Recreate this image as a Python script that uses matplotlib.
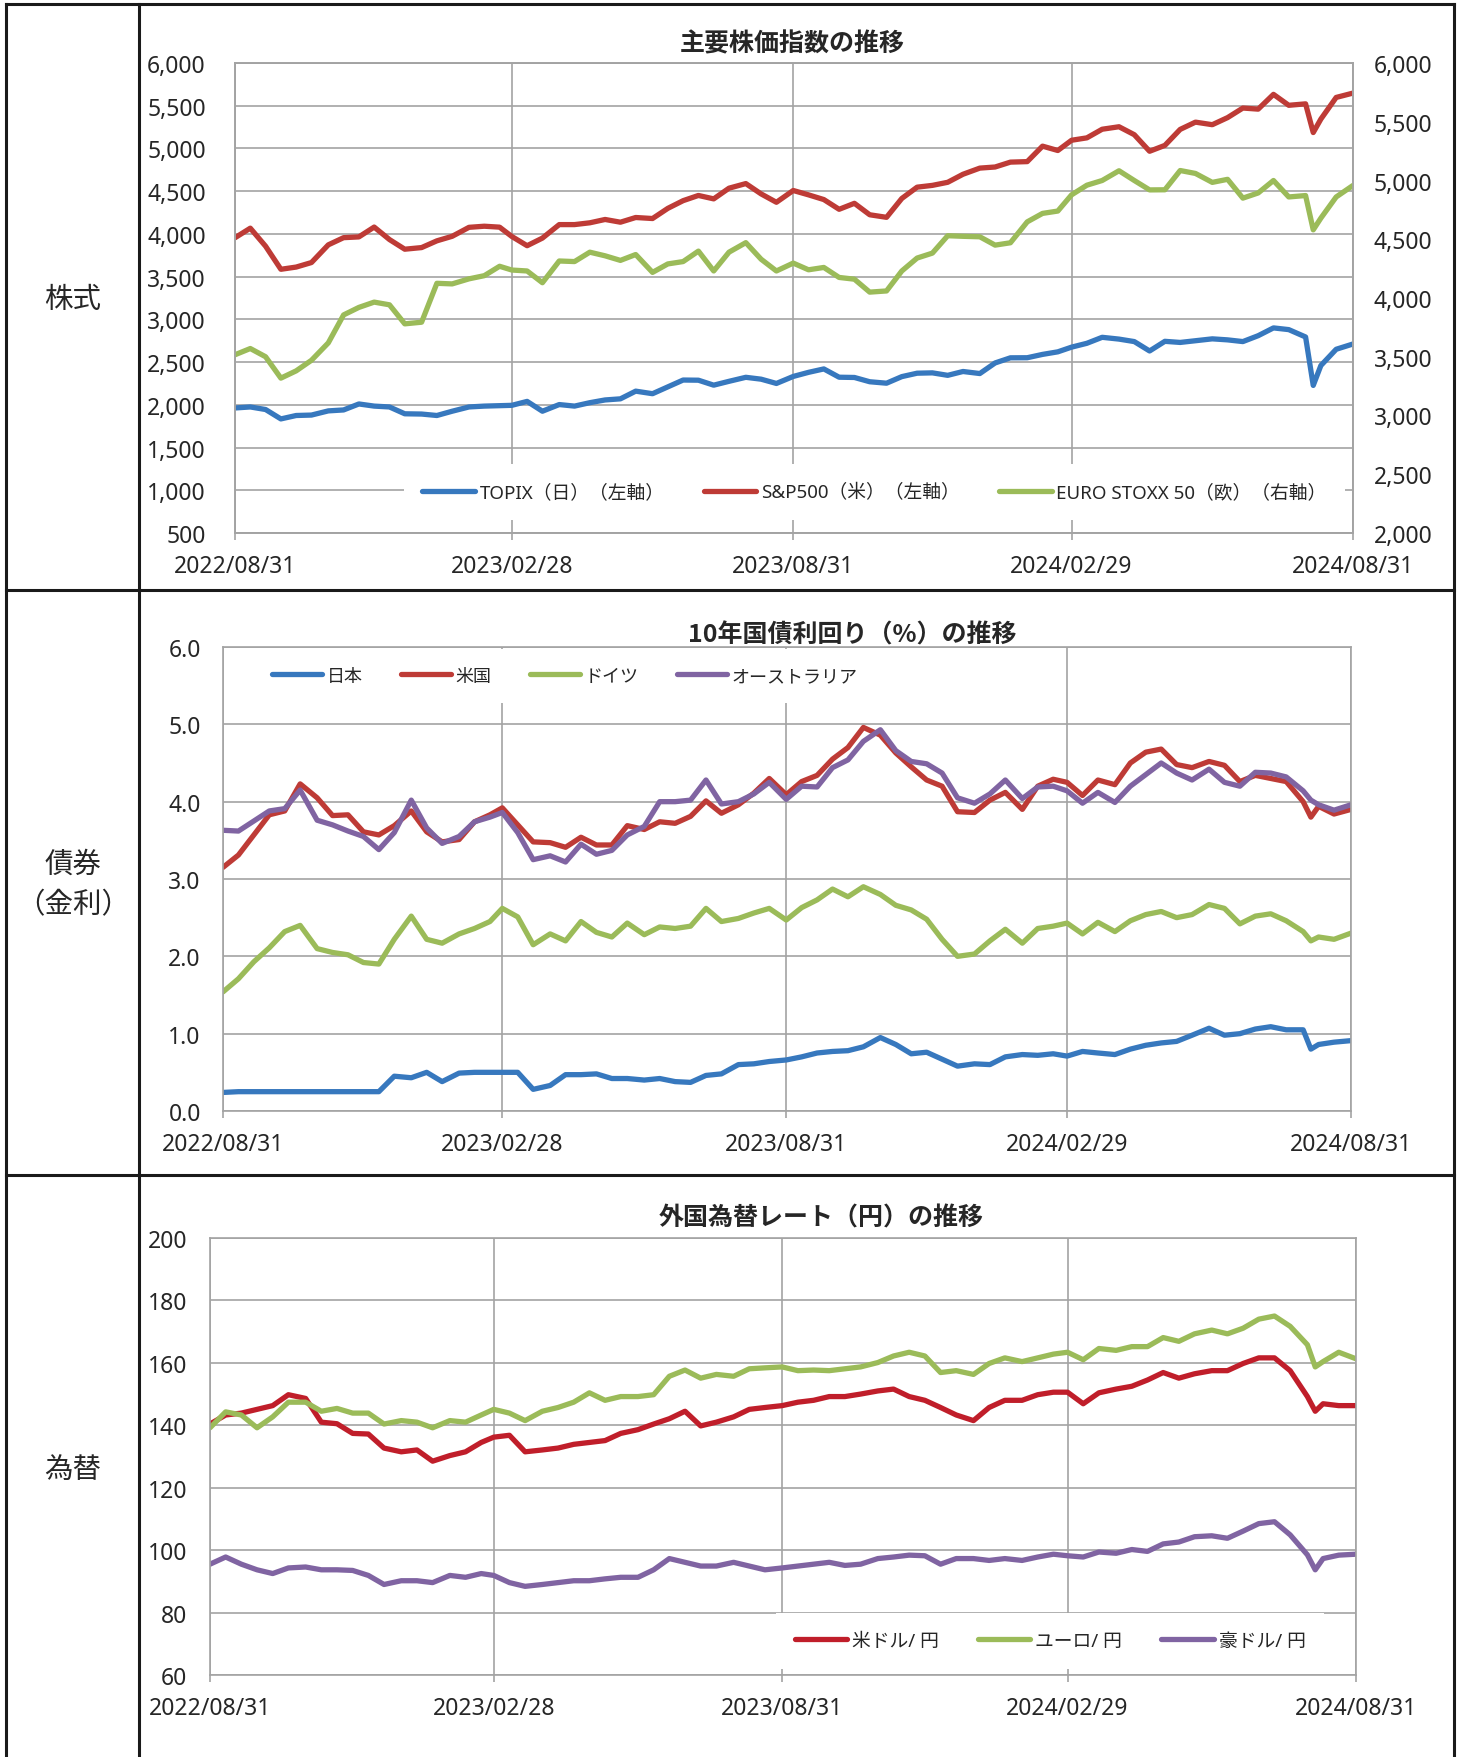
import matplotlib
matplotlib.use("Agg")
import matplotlib.pyplot as plt
import matplotlib.dates as mdates
from matplotlib.lines import Line2D
from matplotlib.ticker import FuncFormatter
import pandas as pd

plt.rcParams['font.family'] = ['Noto Sans', 'Noto Sans CJK JP']

# ---- data (~every 10 days) ----
dates = [
    "2022-08-31", "2022-09-10", "2022-09-20", "2022-09-30", "2022-10-10", "2022-10-20", "2022-10-31",
    "2022-11-10", "2022-11-20", "2022-11-30", "2022-12-10", "2022-12-20", "2022-12-31",
    "2023-01-10", "2023-01-20", "2023-01-31", "2023-02-10", "2023-02-20", "2023-02-28",
    "2023-03-10", "2023-03-20", "2023-03-31", "2023-04-10", "2023-04-20", "2023-04-30",
    "2023-05-10", "2023-05-20", "2023-05-31", "2023-06-10", "2023-06-20", "2023-06-30",
    "2023-07-10", "2023-07-20", "2023-07-31", "2023-08-10", "2023-08-20", "2023-08-31",
    "2023-09-10", "2023-09-20", "2023-09-30", "2023-10-10", "2023-10-20", "2023-10-31",
    "2023-11-10", "2023-11-20", "2023-11-30", "2023-12-10", "2023-12-20", "2023-12-31",
    "2024-01-10", "2024-01-20", "2024-01-31", "2024-02-10", "2024-02-20", "2024-02-29",
    "2024-03-10", "2024-03-20", "2024-03-31", "2024-04-10", "2024-04-20", "2024-04-30",
    "2024-05-10", "2024-05-20", "2024-05-31", "2024-06-10", "2024-06-20", "2024-06-30",
    "2024-07-10", "2024-07-20", "2024-07-31", "2024-08-05", "2024-08-10", "2024-08-20", "2024-08-31",
]

topix = [1963, 1975, 1945, 1835, 1875, 1880, 1929,
         1940, 2010, 1985, 1975, 1895, 1892,
         1875, 1925, 1975, 1985, 1990, 1994,
         2040, 1925, 2003, 1985, 2025, 2057,
         2070, 2160, 2130, 2210, 2290, 2288,
         2230, 2275, 2322, 2300, 2250, 2332,
         2380, 2420, 2323, 2320, 2270, 2253,
         2330, 2370, 2374, 2345, 2390, 2366,
         2490, 2550, 2551, 2590, 2620, 2675,
         2720, 2790, 2769, 2740, 2630, 2743,
         2730, 2750, 2772, 2760, 2740, 2809,
         2900, 2880, 2794, 2227, 2460, 2650, 2712]
sp500 = [3955, 4067, 3856, 3586, 3612, 3665, 3872,
         3956, 3965, 4080, 3934, 3821, 3840,
         3919, 3972, 4077, 4090, 4079, 3970,
         3862, 3951, 4109, 4109, 4130, 4169,
         4137, 4192, 4180, 4299, 4389, 4450,
         4410, 4535, 4589, 4468, 4370, 4508,
         4457, 4402, 4288, 4358, 4224, 4194,
         4415, 4547, 4568, 4604, 4698, 4770,
         4783, 4840, 4846, 5027, 4976, 5096,
         5124, 5225, 5254, 5161, 4967, 5036,
         5223, 5308, 5278, 5361, 5473, 5460,
         5633, 5505, 5522, 5186, 5344, 5597, 5648]
stoxx50 = [3517, 3570, 3500, 3318, 3380, 3470, 3618,
           3856, 3920, 3965, 3942, 3780, 3794,
           4125, 4120, 4163, 4190, 4270, 4238,
           4230, 4130, 4315, 4310, 4390, 4359,
           4320, 4370, 4218, 4290, 4310, 4399,
           4230, 4390, 4471, 4330, 4230, 4297,
           4240, 4260, 4175, 4160, 4050, 4060,
           4230, 4340, 4382, 4530, 4525, 4521,
           4450, 4470, 4648, 4720, 4740, 4878,
           4960, 5000, 5083, 5000, 4920, 4921,
           5085, 5060, 4984, 5010, 4850, 4894,
           5000, 4860, 4872, 4580, 4680, 4860, 4958]

jp10 = [0.24, 0.25, 0.25, 0.25, 0.25, 0.25, 0.25,
        0.25, 0.25, 0.25, 0.25, 0.45, 0.43,
        0.50, 0.38, 0.49, 0.50, 0.50, 0.50,
        0.50, 0.28, 0.33, 0.47, 0.47, 0.48,
        0.42, 0.42, 0.40, 0.42, 0.38, 0.37,
        0.46, 0.48, 0.60, 0.61, 0.64, 0.66,
        0.70, 0.75, 0.77, 0.78, 0.83, 0.95,
        0.86, 0.74, 0.76, 0.67, 0.58, 0.61,
        0.60, 0.70, 0.73, 0.72, 0.74, 0.71,
        0.77, 0.75, 0.73, 0.80, 0.85, 0.88,
        0.90, 0.98, 1.07, 0.98, 1.00, 1.06,
        1.09, 1.05, 1.05, 0.80, 0.86, 0.89, 0.91]
us10 = [3.15, 3.31, 3.57, 3.83, 3.88, 4.23, 4.05,
        3.82, 3.83, 3.61, 3.57, 3.69, 3.88,
        3.61, 3.48, 3.51, 3.74, 3.83, 3.92,
        3.70, 3.48, 3.47, 3.41, 3.54, 3.44,
        3.44, 3.69, 3.64, 3.74, 3.72, 3.81,
        4.01, 3.85, 3.96, 4.11, 4.30, 4.09,
        4.26, 4.34, 4.55, 4.70, 4.96, 4.86,
        4.63, 4.45, 4.28, 4.20, 3.87, 3.86,
        4.02, 4.12, 3.90, 4.20, 4.29, 4.25,
        4.08, 4.28, 4.22, 4.50, 4.64, 4.68,
        4.48, 4.44, 4.52, 4.47, 4.26, 4.34,
        4.30, 4.26, 4.00, 3.80, 3.94, 3.84, 3.90]
de10 = [1.54, 1.71, 1.93, 2.11, 2.32, 2.40, 2.10,
        2.05, 2.02, 1.92, 1.90, 2.22, 2.52,
        2.22, 2.17, 2.29, 2.36, 2.45, 2.62,
        2.51, 2.15, 2.29, 2.20, 2.45, 2.31,
        2.25, 2.43, 2.28, 2.38, 2.36, 2.39,
        2.62, 2.45, 2.49, 2.56, 2.62, 2.47,
        2.63, 2.73, 2.87, 2.77, 2.90, 2.80,
        2.66, 2.60, 2.48, 2.22, 2.00, 2.03,
        2.20, 2.35, 2.17, 2.36, 2.39, 2.43,
        2.29, 2.44, 2.32, 2.46, 2.54, 2.58,
        2.50, 2.54, 2.67, 2.62, 2.42, 2.52,
        2.55, 2.46, 2.32, 2.20, 2.25, 2.22, 2.30]
au10 = [3.63, 3.62, 3.75, 3.88, 3.91, 4.15, 3.76,
        3.70, 3.62, 3.55, 3.38, 3.60, 4.02,
        3.66, 3.46, 3.55, 3.74, 3.80, 3.86,
        3.60, 3.25, 3.30, 3.22, 3.45, 3.32,
        3.37, 3.57, 3.68, 4.00, 4.00, 4.02,
        4.28, 3.97, 4.00, 4.10, 4.25, 4.03,
        4.20, 4.19, 4.44, 4.54, 4.78, 4.93,
        4.66, 4.52, 4.49, 4.37, 4.05, 3.98,
        4.10, 4.28, 4.04, 4.19, 4.20, 4.14,
        3.98, 4.12, 3.99, 4.20, 4.35, 4.50,
        4.37, 4.28, 4.42, 4.25, 4.20, 4.38,
        4.37, 4.32, 4.14, 4.02, 3.96, 3.89, 3.96]

usdjpy = [140.4, 143.3, 143.9, 145.1, 146.3, 149.8, 148.6,
          141.0, 140.5, 137.4, 137.2, 132.7, 131.5,
          132.1, 128.5, 130.3, 131.5, 134.5, 136.2,
          136.8, 131.5, 132.1, 132.7, 133.9, 134.5,
          135.1, 137.4, 138.6, 140.4, 142.1, 144.5,
          139.8, 141.0, 142.7, 145.1, 145.7, 146.3,
          147.4, 148.0, 149.2, 149.2, 150.0, 151.0,
          151.6, 149.2, 148.0, 145.7, 143.3, 141.5,
          145.7, 148.0, 148.0, 149.8, 150.6, 150.6,
          146.9, 150.4, 151.6, 152.5, 154.5, 156.9,
          155.1, 156.5, 157.5, 157.5, 159.8, 161.6,
          161.6, 157.5, 149.2, 144.5, 146.9, 146.3, 146.3]
eurjpy = [139.2, 144.3, 143.3, 139.2, 142.7, 147.4, 147.4,
          144.5, 145.4, 143.9, 143.9, 140.4, 141.5,
          141.0, 139.2, 141.5, 141.0, 143.3, 145.1,
          143.9, 141.5, 144.5, 145.7, 147.4, 150.4,
          148.0, 149.2, 149.2, 149.8, 155.7, 157.7,
          155.1, 156.3, 155.7, 158.1, 158.4, 158.7,
          157.5, 157.7, 157.5, 158.1, 158.7, 160.1,
          162.2, 163.4, 162.2, 156.9, 157.5, 156.3,
          159.8, 161.6, 160.4, 161.6, 162.8, 163.4,
          161.0, 164.6, 164.0, 165.2, 165.2, 168.1,
          166.9, 169.3, 170.5, 169.3, 171.1, 174.0,
          175.0, 171.7, 165.8, 158.7, 160.4, 163.4, 161.3]
audjpy = [95.5, 97.8, 95.5, 93.7, 92.5, 94.3, 94.6,
          93.7, 93.7, 93.5, 91.9, 89.0, 90.2,
          90.2, 89.6, 91.9, 91.3, 92.5, 91.9,
          89.6, 88.4, 89.0, 89.6, 90.2, 90.2,
          90.8, 91.3, 91.3, 93.7, 97.3, 96.1,
          94.9, 94.9, 96.1, 94.9, 93.7, 94.3,
          94.9, 95.5, 96.1, 95.1, 95.5, 97.3,
          97.8, 98.4, 98.2, 95.5, 97.3, 97.3,
          96.7, 97.3, 96.7, 97.8, 98.7, 98.2,
          97.8, 99.4, 99.0, 100.2, 99.6, 102.0,
          102.6, 104.3, 104.6, 103.8, 106.1, 108.5,
          109.1, 104.9, 98.5, 93.7, 97.3, 98.4, 98.7]

tick_dates = ["2022-08-31", "2023-02-28", "2023-08-31", "2024-02-29", "2024-08-31"]

x = pd.to_datetime(dates)
xt = pd.to_datetime(tick_dates)

# ---- figure / layout in reference pixels ----
W, H = 1463, 1758
fig = plt.figure(figsize=(W / 100, H / 100), dpi=100)


def box(l, t, r, b):
    return [l / W, 1 - b / H, (r - l) / W, (b - t) / H]


GRID = '#A3A3A3'
TXT = '#262626'
LW = 3.8


def style(ax, ylim, yticks, fmt, ypad):
    ax.set_xlim(x[0], x[-1])
    ax.set_ylim(*ylim)
    ax.set_yticks(yticks)
    ax.yaxis.set_major_formatter(FuncFormatter(fmt))
    ax.set_xticks(xt)
    ax.xaxis.set_major_formatter(mdates.DateFormatter('%Y/%m/%d'))
    ax.grid(True, color=GRID, lw=1.2)
    ax.set_axisbelow(True)
    for s in ax.spines.values():
        s.set_color(GRID)
        s.set_linewidth(1.2)
    ax.tick_params(axis='y', length=0, pad=ypad, labelsize=16.5, labelcolor=TXT)
    ax.tick_params(axis='x', length=5, width=1.2, color=GRID, pad=10,
                   labelsize=16.5, labelcolor=TXT)


def legend(ax, handles, labels, anchor, size=13.5):
    leg = ax.legend(handles, labels, loc='center', bbox_to_anchor=anchor, ncol=len(labels),
                    frameon=True, fancybox=False, fontsize=size, handlelength=2.8,
                    handletextpad=0.25, columnspacing=2.1, borderpad=1.0, framealpha=1)
    leg.get_frame().set_facecolor('white')
    leg.get_frame().set_edgecolor('none')
    for t in leg.get_texts():
        t.set_color(TXT)
    return leg


comma = lambda v, p: f"{v:,.0f}"
line_kw = dict(lw=LW, solid_joinstyle='round', solid_capstyle='round')

# ---- 株式 ----
ax1 = fig.add_axes(box(235, 64, 1353, 534))
ax1r = ax1.twinx()
style(ax1, (500, 6000), range(500, 6001, 500), comma, 21)
l1, = ax1.plot(x, topix, color='#3778BE', **line_kw)
l2, = ax1.plot(x, sp500, color='#BE3B36', **line_kw)
l3, = ax1r.plot(x, stoxx50, color='#9BBB59', **line_kw)
ax1r.set_ylim(2000, 6000)
ax1r.set_yticks(range(2000, 6001, 500))
ax1r.yaxis.set_major_formatter(FuncFormatter(comma))
ax1r.tick_params(axis='y', length=0, pad=15, labelsize=16.5, labelcolor=TXT)
for s in ax1r.spines.values():
    s.set_color(GRID)
    s.set_linewidth(1.2)
legend(ax1r, [l1, l2, l3],
       ["TOPIX（日）（左軸）", "S&P500（米）（左軸）", "EURO STOXX 50（欧）（右軸）"],
       (0.572, 0.087))

# ---- 債券 ----
ax2 = fig.add_axes(box(223, 648, 1351, 1112))
style(ax2, (0, 6), [0, 1, 2, 3, 4, 5, 6], lambda v, p: f"{v:.1f}", 16)
b1, = ax2.plot(x, jp10, color='#3778BE', **line_kw)
b2, = ax2.plot(x, us10, color='#BE3B36', **line_kw)
b3, = ax2.plot(x, de10, color='#9BBB59', **line_kw)
b4, = ax2.plot(x, au10, color='#8064A2', **line_kw)
legend(ax2, [b1, b2, b3, b4], ["日本", "米国", "ドイツ", "オーストラリア"], (0.303, 0.938), 13)

# ---- 為替 ----
ax3 = fig.add_axes(box(210, 1239, 1356, 1676))
style(ax3, (60, 200), range(60, 201, 20), lambda v, p: f"{v:.0f}", 16.5)
c1, = ax3.plot(x, usdjpy, color='#C01E2A', **line_kw)
c2, = ax3.plot(x, eurjpy, color='#9BBB59', **line_kw)
c3, = ax3.plot(x, audjpy, color='#8064A2', **line_kw)
legend(ax3, [c1, c2, c3], ["米ドル/ 円", "ユーロ/ 円", "豪ドル/ 円"], (0.733, 0.078))

# ---- titles ----
title_kw = dict(fontsize=18, fontweight='bold', color=TXT, ha='center', va='center',
                family=['Noto Sans CJK JP', 'DejaVu Sans'])
fig.text(792 / W, 1 - 44 / H, "主要株価指数の推移", **title_kw)
fig.text(852 / W, 1 - 635 / H, "10年国債利回り（%）の推移", **title_kw)
fig.text(821 / W, 1 - 1218 / H, "外国為替レート（円）の推移", **title_kw)

# ---- table frame and row labels ----
frame_kw = dict(color='#1A1A1A', lw=2.2, transform=fig.transFigure)
for xx in (6, 139, 1454):
    fig.add_artist(Line2D([xx / W, xx / W], [1 - 5 / H, 0], **frame_kw))
for yy in (5, 591, 1176):
    fig.add_artist(Line2D([6 / W, 1454 / W], [1 - yy / H, 1 - yy / H], **frame_kw))

row_kw = dict(fontsize=20.5, color=TXT, ha='center', va='center')
fig.text(73 / W, 1 - 300 / H, "株式", **row_kw)
fig.text(73 / W, 1 - 865 / H, "債券", **row_kw)
fig.text(73 / W, 1 - 906 / H, "（金利）", **row_kw)
fig.text(73 / W, 1 - 1470 / H, "為替", **row_kw)

fig.savefig("out.png", dpi=100)
